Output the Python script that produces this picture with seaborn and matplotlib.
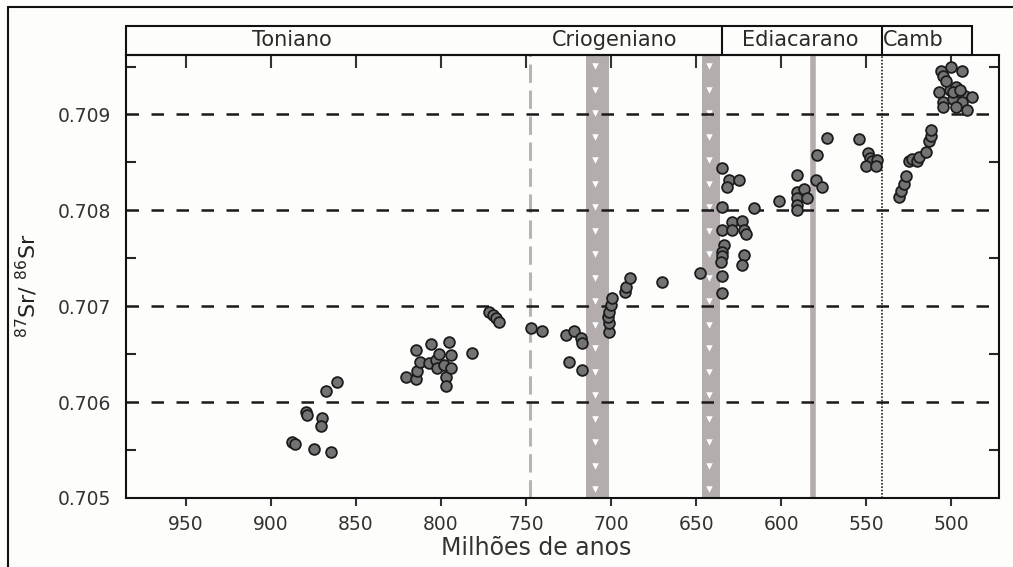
import matplotlib
matplotlib.use("Agg")
import matplotlib.pyplot as plt
import matplotlib.transforms as mtransforms
from matplotlib.patches import Rectangle
import seaborn as sns
import numpy as np
import pandas as pd

sns.set_style("white")
plt.rcParams["font.family"] = ["DejaVu Sans"]

# --------------------------------------------------
# data: age (Ma) and 87Sr/86Sr
# --------------------------------------------------
ages = [
    887.6, 885.5, 874.7, 864.7, 879.4, 878.8, 870.0, 870.6, 867.6, 861.0,
    820.6, 814.7, 814.0, 814.7, 812.0, 805.9, 807.0, 803.0, 802.0, 798.0,
    797.0, 797.0, 795.0, 794.0, 794.0, 781.8, 801.0,
    771.8, 769.5, 767.6, 766.0,
    747.0, 740.6, 726.5, 721.8, 717.6, 717.0, 724.7, 717.0,
    701.0, 701.0, 702.0, 701.0, 700.0, 699.4, 692.0, 691.0, 689.0, 670.0, 648.0,
    634.7, 630.6, 624.7, 632.0, 634.7, 615.9, 629.0, 623.0, 634.7, 628.8,
    621.8, 620.6, 633.5, 634.7, 634.7, 635.3, 621.8, 623.0, 635.0, 635.0,
    601.0, 590.6, 591.0, 586.5, 590.6, 591.0, 591.0, 584.7, 579.4, 576.0,
    578.8, 573.0, 554.0, 549.0, 548.0, 546.5, 550.0, 543.5, 544.0,
    530.6, 529.4, 527.6, 526.5, 524.7, 523.0, 520.0, 518.8, 514.7, 513.0,
    511.8, 511.8,
    500.0, 506.0, 493.5, 505.0, 507.0, 501.0, 497.0, 492.0, 488.0, 505.0,
    499.0, 493.5, 505.0, 491.0, 499.0, 497.0, 503.0, 495.0,
]
sr_ratio = [
    0.70558, 0.70556, 0.70551, 0.70548, 0.70590, 0.70587, 0.70583, 0.70575, 0.70612, 0.70621,
    0.70626, 0.70624, 0.70632, 0.70654, 0.70642, 0.70661, 0.70641, 0.70644, 0.70636, 0.70639,
    0.70626, 0.70617, 0.70663, 0.70649, 0.70636, 0.70651, 0.70650,
    0.70694, 0.70691, 0.70688, 0.70684,
    0.70677, 0.70674, 0.70670, 0.70674, 0.70667, 0.70662, 0.70642, 0.70634,
    0.70673, 0.70683, 0.70689, 0.70694, 0.70701, 0.70709, 0.70715, 0.70720, 0.70729, 0.70725, 0.70735,
    0.70844, 0.70832, 0.70832, 0.70824, 0.70804, 0.70802, 0.70788, 0.70789, 0.70780, 0.70780,
    0.70780, 0.70775, 0.70764, 0.70757, 0.70752, 0.70746, 0.70753, 0.70743, 0.70731, 0.70714,
    0.70810, 0.70837, 0.70819, 0.70822, 0.70813, 0.70806, 0.70800, 0.70813, 0.70832, 0.70824,
    0.70858, 0.70875, 0.70874, 0.70860, 0.70855, 0.70851, 0.70846, 0.70853, 0.70846,
    0.70814, 0.70820, 0.70827, 0.70836, 0.70851, 0.70854, 0.70851, 0.70856, 0.70861, 0.70872,
    0.70878, 0.70884,
    0.70949, 0.70945, 0.70945, 0.70940, 0.70923, 0.70926, 0.70929, 0.70919, 0.70918, 0.70913,
    0.70916, 0.70913, 0.70908, 0.70905, 0.70923, 0.70908, 0.70935, 0.70925,
]

# periods on the top band: name, label position, alignment
period_names = ["Toniano", "Criogeniano", "Ediacarano", "Camb"]
period_label_x = [887.6, 698.0, 589.0, 540.0]
period_label_ha = ["center", "center", "center", "left"]
band_left, band_right = 985.0, 488.0
band_dividers = [635.0, 541.0]

# glaciations (shaded) and events (lines)
glacial_intervals = [(714.7, 701.0), (646.5, 636.0)]
dashed_event = 747.5
gaskiers = 581.5
cambrian_base = 541.0

y_gridlines = [0.706, 0.707, 0.708, 0.709]

df = pd.DataFrame({"age": ages, "sr": sr_ratio})

fig = plt.figure(figsize=(10.13, 5.67), dpi=100)
fig.patch.set_facecolor("#fdfdfb")
ax = fig.add_axes([0.1244, 0.1217, 0.8618, 0.7813])
ax.set_facecolor("#fdfdfb")

# glacial bands with white triangles
tri_y = np.linspace(0.975, 0.02, 19)
trans = mtransforms.blended_transform_factory(ax.transData, ax.transAxes)
for a0, a1 in glacial_intervals:
    ax.axvspan(a1, a0, color="#b3adad", lw=0, zorder=1)
    tx = a0 - (a0 - a1) * 0.38
    ax.scatter([tx] * len(tri_y), tri_y, marker="v", s=22, color="white",
               lw=0, transform=trans, zorder=2)

ax.axvline(dashed_event, color="#b5b5b5", lw=2.2, ls=(0, (6, 2.5)), zorder=1)
ax.axvline(gaskiers, color="#b3adad", lw=4, zorder=1)
ax.axvline(cambrian_base, color="#222222", lw=1.2, ls=(0, (1, 1)), zorder=1)

for yv in y_gridlines:
    ax.axhline(yv, color="#1a1a1a", lw=1.8, ls=(0, (5, 5)), zorder=2)

sns.scatterplot(data=df, x="age", y="sr", ax=ax, s=60, color="#737373",
                edgecolor="#1c1c1c", linewidth=1.3, zorder=5, legend=False)

ax.set_xlim(985, 472)
ax.set_ylim(0.705, 0.70962)
ax.set_xticks(np.arange(500, 951, 50))
ax.set_yticks([0.705, 0.706, 0.707, 0.708, 0.709])
ax.set_yticklabels(["0.705", "0.706", "0.707", "0.708", "0.709"])
ax.set_yticks([0.7055, 0.7065, 0.7075, 0.7085, 0.7095], minor=True)

ax.tick_params(axis="x", which="major", direction="out", length=6, width=1.5,
               top=True, bottom=True, labelsize=13.5, colors="#333333", pad=6)
ax.tick_params(axis="y", which="major", length=0, labelsize=13.5, pad=11,
               colors="#333333")
ax.tick_params(axis="y", which="minor", direction="in", length=7, width=1.5,
               left=True, right=True)
# top ticks point inside
for t in ax.xaxis.get_major_ticks():
    t.tick2line.set_marker(3)
    t.tick2line.set_markersize(9)

for s in ax.spines.values():
    s.set_color("#111111")
    s.set_linewidth(1.5)

ax.set_xlabel("Milhões de anos", fontsize=17, color="#333333")
ax.xaxis.set_label_coords(0.47, -0.086, transform=ax.transAxes)
ax.set_ylabel(r"$^{87}$Sr/ $^{86}$Sr", fontsize=16, color="#222222")
ax.yaxis.set_label_coords(-0.098, 0.48, transform=ax.transAxes)

# period band above the axes
band_h = 0.066
ax.add_patch(Rectangle((band_left, 1.0), band_right - band_left, band_h,
                       transform=trans, clip_on=False, fill=False,
                       ec="#111111", lw=1.5))
for d in band_dividers:
    ax.plot([d, d], [1.0, 1.0 + band_h], transform=trans, clip_on=False,
            color="#111111", lw=1.5)
for name, lx, ha in zip(period_names, period_label_x, period_label_ha):
    ax.text(lx, 1.0 + band_h / 2, name, transform=trans, ha=ha, va="center",
            fontsize=15, color="#2a2a2a")

# outer frame of the figure
fig.add_artist(plt.Line2D([8 / 1013, 8 / 1013], [0, 1 - 7 / 567], color="#111111", lw=1.5))
fig.add_artist(plt.Line2D([8 / 1013, 1], [1 - 7 / 567, 1 - 7 / 567], color="#111111", lw=1.5))

fig.savefig("out.png", dpi=100, facecolor=fig.get_facecolor())
